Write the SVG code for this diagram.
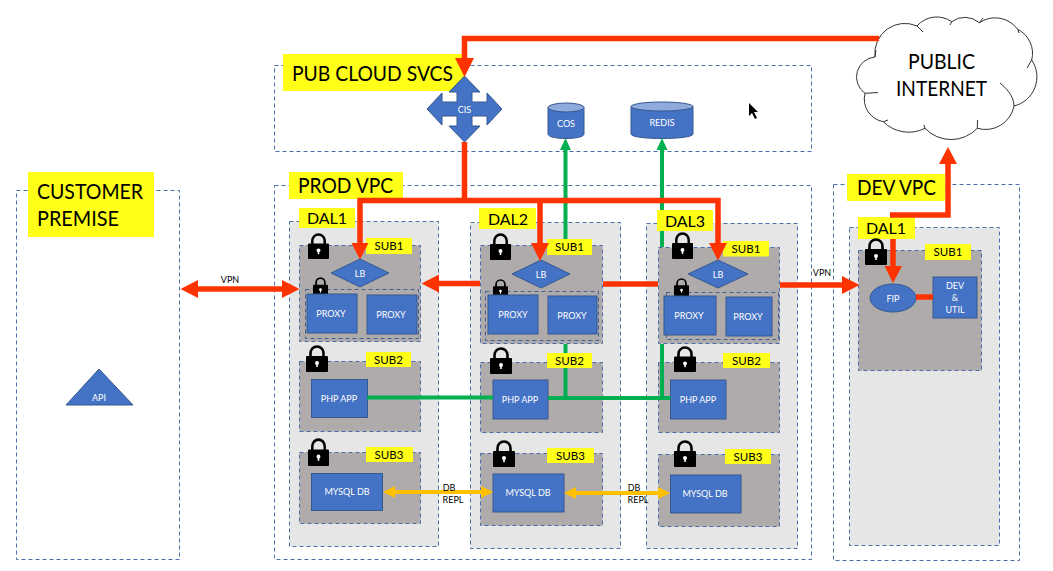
<svg xmlns="http://www.w3.org/2000/svg" xmlns:xlink="http://www.w3.org/1999/xlink" width="1053" height="571" viewBox="0 0 1053 571">
<style>
text{font-family:Lato,"Liberation Sans",sans-serif;text-anchor:middle}
.zone{fill:#fff;stroke:#4a6ea9;stroke-width:1;stroke-dasharray:4 3}
.dal{fill:#e7e6e6;stroke:#4a6ea9;stroke-width:1;stroke-dasharray:4 3}
.sub{fill:#afabab;stroke:#4a6ea9;stroke-width:1;stroke-dasharray:4 3}
.inner{fill:none;stroke:#44618f;stroke-width:1;stroke-dasharray:4 3}
.y{fill:#ffff17}
.b{fill:#4472c4;stroke:#35588f;stroke-width:1}
.w{fill:#fff;font-size:9px}
.t{fill:#000}
.big{font-size:21px}
.mid{font-size:16px}
.sm{font-size:11.5px}
.tiny{font-size:9px}
.red{fill:none;stroke:#ff3300;stroke-width:5.5}
.grn{fill:none;stroke:#00b050;stroke-width:4}
.org{fill:none;stroke:#ffc000;stroke-width:4}
</style>
<defs>
<symbol id="lock" viewBox="0 0 22 27" preserveAspectRatio="none">
<path d="M4.5 12V8a6.5 6.5 0 0 1 13 0V12" fill="none" stroke="#000" stroke-width="2.6"/>
<rect x="0" y="11" width="22" height="16" rx="1" fill="#000"/>
<circle cx="11" cy="18" r="2" fill="#fff"/><rect x="10.2" y="18" width="1.6" height="4" fill="#fff"/>
</symbol>
<marker id="hr" markerUnits="userSpaceOnUse" markerWidth="20" markerHeight="20" viewBox="0 -10 20 20" refX="0" refY="0" orient="auto-start-reverse" overflow="visible"><path d="M0-9L17.500 0L0 9Z" fill="#ff3300"/></marker>
<marker id="hg" markerUnits="userSpaceOnUse" markerWidth="14" markerHeight="14" viewBox="0 -7 14 14" refX="0" refY="0" orient="auto" overflow="visible"><path d="M0-5.500L12 0L0 5.500Z" fill="#00b050"/></marker>
<marker id="ho" markerUnits="userSpaceOnUse" markerWidth="14" markerHeight="14" viewBox="0 -7 14 14" refX="0" refY="0" orient="auto-start-reverse" overflow="visible"><path d="M0-6L12 0L0 6Z" fill="#ffc000"/></marker>
</defs>
<rect width="1053" height="571" fill="#fff"/>

<g id="customer-premise">
<rect class="zone" x="16.500" y="190.500" width="163" height="369"/>
<rect class="y" x="28" y="172" width="126" height="65"/>
<text class="t big" x="90" y="199" textLength="106" lengthAdjust="spacingAndGlyphs">CUSTOMER</text><text class="t big" x="78" y="226" textLength="82" lengthAdjust="spacingAndGlyphs">PREMISE</text>
</g>
<g id="api"><path class="b" d="M99 369L133 405H66Z"/><text class="w" x="99" y="401">API</text></g>

<g id="pub-cloud-svcs">
<rect class="zone" x="274.500" y="65.500" width="537" height="86"/>
<rect class="y" x="283" y="54" width="182" height="37"/>
<text class="t big" x="372.500" y="81" textLength="161" lengthAdjust="spacingAndGlyphs">PUB CLOUD SVCS</text>
</g>
<g id="cis"><path class="b" d="M464.500 76L480 92H472V102H487V93L502 109L487 125V116H472V126H480L464.500 142L449 126H457V116H442V125L427 109L442 93V102H457V92H449Z"/><text class="w" x="464.500" y="113">CIS</text></g>
<g id="cos"><path class="b" d="M548 107.500V134C548 140 584 140 584 134V107.500Z"/><ellipse cx="566" cy="107.500" rx="18" ry="4.500" fill="#8faadc" stroke="#35588f"/><text class="w" x="566" y="127">COS</text></g>
<g id="redis"><path class="b" d="M631 106.500V134C631 140 693 140 693 134V106.500Z"/><ellipse cx="662" cy="106.500" rx="31" ry="4.500" fill="#8faadc" stroke="#35588f"/><text class="w" x="662" y="126">REDIS</text></g>
<path id="cursor" d="M749 103V116L752 113L755 119L757 118L754 112L758 112Z" fill="#000"/>

<g id="prod-vpc">
<rect class="zone" x="274.500" y="185.500" width="537" height="374"/>
<rect class="y" x="289" y="172" width="114" height="27"/>
<text class="t big" x="345.500" y="193" textLength="95" lengthAdjust="spacingAndGlyphs">PROD VPC</text>
</g>

<g id="prod-dal1">
<rect class="dal" x="289.500" y="221.500" width="149" height="325"/>
<rect class="y" x="299" y="208" width="56" height="20"/><text class="t mid" x="327" y="224">DAL1</text>
</g>
<g id="prod-dal1-sub1">
<rect class="sub" x="299.500" y="245.500" width="121" height="96"/>
<rect class="y" x="366" y="238" width="46" height="16"/><text class="t sm" x="389" y="250">SUB1</text>
<use xlink:href="#lock" href="#lock" x="308" y="233" width="21" height="26"/>
<rect class="inner" x="305.500" y="289.500" width="113" height="49"/>
<use xlink:href="#lock" href="#lock" x="313" y="277" width="15" height="19"/>
</g>
<g id="prod-dal1-lb"><path class="b" d="M360 259L389 273L360 287L331 273Z"/><text class="w" x="360" y="277">LB</text></g>
<g id="prod-dal1-proxy1"><rect class="b" x="307" y="294" width="50" height="39"/><text class="w" x="331" y="317">PROXY</text></g>
<g id="prod-dal1-proxy2"><rect class="b" x="367" y="295" width="50" height="39"/><text class="w" x="391" y="318">PROXY</text></g>
<g id="prod-dal1-sub2">
<rect class="sub" x="299.500" y="361.500" width="121" height="70"/>
<rect class="y" x="366" y="352" width="45" height="15"/><text class="t sm" x="388.500" y="364">SUB2</text>
<use xlink:href="#lock" href="#lock" x="306" y="345" width="22" height="27"/>
</g>
<g id="prod-dal1-php"><rect class="b" x="311.500" y="379.500" width="56" height="38"/><text class="w" x="339" y="402">PHP APP</text></g>
<g id="prod-dal1-sub3">
<rect class="sub" x="299.500" y="452.500" width="121" height="71"/>
<rect class="y" x="366" y="447" width="47" height="15"/><text class="t sm" x="389" y="459">SUB3</text>
<use xlink:href="#lock" href="#lock" x="308" y="438" width="21" height="28"/>
</g>
<g id="prod-dal1-mysql"><rect class="b" x="311.500" y="473.500" width="71" height="37"/><text class="w" x="347" y="495">MYSQL DB</text></g>

<g id="prod-dal2">
<rect class="dal" x="470.500" y="222.500" width="150" height="326"/>
<rect class="y" x="479" y="208" width="57" height="21"/><text class="t mid" x="508" y="225">DAL2</text>
</g>
<g id="prod-dal2-sub1">
<rect class="sub" x="480.500" y="245.500" width="122" height="98"/>
<rect class="y" x="547" y="239" width="45" height="16"/><text class="t sm" x="569.500" y="251">SUB1</text>
<use xlink:href="#lock" href="#lock" x="490" y="233" width="21" height="27"/>
<rect class="inner" x="485.500" y="291.500" width="113" height="49"/>
<use xlink:href="#lock" href="#lock" x="493" y="279" width="15" height="18"/>
</g>
<g id="prod-dal2-lb"><path class="b" d="M541 260L570 274L541 288L512 274Z"/><text class="w" x="541" y="278">LB</text></g>
<g id="prod-dal2-proxy1"><rect class="b" x="488" y="295" width="50" height="39"/><text class="w" x="513" y="318">PROXY</text></g>
<g id="prod-dal2-proxy2"><rect class="b" x="548" y="296" width="49" height="38"/><text class="w" x="572" y="319">PROXY</text></g>
<g id="prod-dal2-sub2">
<rect class="sub" x="480.500" y="362.500" width="122" height="70"/>
<rect class="y" x="547" y="353" width="45" height="15"/><text class="t sm" x="569.500" y="365">SUB2</text>
<use xlink:href="#lock" href="#lock" x="490" y="347" width="22" height="27"/>
</g>
<g id="prod-dal2-php"><rect class="b" x="493" y="380" width="55" height="39"/><text class="w" x="520" y="403">PHP APP</text></g>
<g id="prod-dal2-sub3">
<rect class="sub" x="480.500" y="453.500" width="122" height="72"/>
<rect class="y" x="547" y="448" width="47" height="15"/><text class="t sm" x="570.500" y="460">SUB3</text>
<use xlink:href="#lock" href="#lock" x="493" y="440" width="22" height="27"/>
</g>
<g id="prod-dal2-mysql"><rect class="b" x="493" y="474" width="71" height="38"/><text class="w" x="528" y="496">MYSQL DB</text></g>

<g id="prod-dal3">
<rect class="dal" x="646.500" y="223.500" width="151" height="325"/>
<rect class="y" x="657" y="210" width="56" height="21"/><text class="t mid" x="685" y="227">DAL3</text>
</g>
<g id="prod-dal3-sub1">
<rect class="sub" x="658.500" y="247.500" width="121" height="96"/>
<rect class="y" x="723" y="241" width="46" height="15.500"/><text class="t sm" x="746" y="253">SUB1</text>
<use xlink:href="#lock" href="#lock" x="672" y="232" width="21" height="27"/>
<rect class="inner" x="666.500" y="292.500" width="112" height="47"/>
<use xlink:href="#lock" href="#lock" x="674" y="278" width="15" height="18"/>
</g>
<g id="prod-dal3-lb"><path class="b" d="M718 260L748 274L718 288L688 274Z"/><text class="w" x="718" y="278">LB</text></g>
<g id="prod-dal3-proxy1"><rect class="b" x="664" y="296" width="52" height="39"/><text class="w" x="689" y="319">PROXY</text></g>
<g id="prod-dal3-proxy2"><rect class="b" x="726" y="297" width="46" height="39"/><text class="w" x="748" y="320">PROXY</text></g>
<g id="prod-dal3-sub2">
<rect class="sub" x="658.500" y="362.500" width="121" height="70"/>
<rect class="y" x="723" y="353" width="47" height="15"/><text class="t sm" x="746.500" y="365">SUB2</text>
<use xlink:href="#lock" href="#lock" x="674" y="346" width="22" height="26"/>
</g>
<g id="prod-dal3-php"><rect class="b" x="670.500" y="380" width="55.500" height="39"/><text class="w" x="698" y="403">PHP APP</text></g>
<g id="prod-dal3-sub3">
<rect class="sub" x="658.500" y="454.500" width="121" height="72"/>
<rect class="y" x="725" y="449" width="46" height="15"/><text class="t sm" x="748" y="461">SUB3</text>
<use xlink:href="#lock" href="#lock" x="674" y="440" width="22" height="27"/>
</g>
<g id="prod-dal3-mysql"><rect class="b" x="670.500" y="475" width="70.500" height="38"/><text class="w" x="705" y="497">MYSQL DB</text></g>

<g id="dev-vpc">
<rect class="zone" x="833.500" y="184.500" width="186" height="376"/>
<rect class="y" x="847" y="174" width="98" height="27"/>
<text class="t big" x="896.500" y="195" textLength="79" lengthAdjust="spacingAndGlyphs">DEV VPC</text>
</g>
<g id="dev-dal1">
<rect class="dal" x="849.500" y="227.500" width="150" height="318"/>
<rect class="y" x="858" y="217" width="57" height="22"/><text class="t mid" x="886" y="234">DAL1</text>
</g>
<g id="dev-dal1-sub1">
<rect class="sub" x="858.500" y="250.500" width="123" height="120"/>
<rect class="y" x="925" y="244" width="46" height="16"/><text class="t sm" x="948" y="256">SUB1</text>
<use xlink:href="#lock" href="#lock" x="865" y="238" width="22" height="27"/>
</g>
<g id="fip"><ellipse class="b" cx="893" cy="298" rx="23" ry="14"/><text class="w" x="893" y="302">FIP</text></g>
<g id="dev-util"><rect class="b" x="933" y="277" width="44" height="41"/><text class="w" x="955" y="289">DEV</text><text class="w" x="955" y="301">&amp;</text><text class="w" x="955" y="313">UTIL</text></g>

<g id="public-internet">
<path d="M875 57A30 30 0 0 1 917 26A26 26 0 0 1 951.700 21.700A22 22 0 0 1 979.300 22.700A28 28 0 0 1 1017.700 29.300A27 27 0 0 1 1031.700 60A30 30 0 0 1 1014 106A29 29 0 0 1 977.300 128.300A36 36 0 0 1 925 128.300A36 36 0 0 1 883.300 121.700A23 23 0 0 1 865 93.300A20 20 0 0 1 875 57Z" fill="#fff" stroke="#333" stroke-width="1"/>
<path d="M875 57L876 50M917 26L923 32M951.700 21.700L950 25M979.300 22.700L983 18M1017.700 29.300L1019 33M1031.700 60L1027 68M1014 106C1014 96 1006 88 1000 83M977.300 128.300L977.500 120M925 128.300L924 125M883.300 121.700L888 120M865 93.300L878 92.500" fill="none" stroke="#333"/>
<text class="t big" x="941.500" y="69" textLength="67" lengthAdjust="spacingAndGlyphs">PUBLIC</text><text class="t big" x="941.500" y="96" textLength="91" lengthAdjust="spacingAndGlyphs">INTERNET</text>
</g>

<g id="connectors">
<path class="grn" d="M565.500 239V162"/>
<path class="grn" d="M565.500 344V353M565.500 368V398"/>
<path class="grn" marker-end="url(#hg)" d="M565.500 162V150"/>
<path class="grn" d="M662 210V162M662 231V247M662 344V398"/>
<path class="grn" marker-end="url(#hg)" d="M662 162V150"/>
<path class="grn" d="M367 397.500H493M548 398H670.500"/>
<path class="org" marker-start="url(#ho)" marker-end="url(#ho)" d="M395 492H481"/>
<path class="org" marker-start="url(#ho)" marker-end="url(#ho)" d="M576 493H658"/>
<path class="red" d="M879 38.500H464.500V58"/>
<path class="red" d="M464.500 142V201"/>
<path class="red" d="M360 243V200.500H718V243"/>
<path class="red" d="M540 200.500V243"/>
<path d="M351.500 243H368.500L360 259.500ZM531 243H549L540 261ZM709 243H727L718 260.500ZM455 58H474L464.500 77Z" fill="#ff3300"/>
<path class="red" marker-start="url(#hr)" marker-end="url(#hr)" d="M198 289H282"/>
<path class="red" marker-end="url(#hr)" d="M480 283.500H439"/>
<path class="red" d="M603 284H658"/>
<path class="red" marker-end="url(#hr)" d="M780 285H842"/>
<path class="red" d="M948 163V215H890"/>
<path d="M939 164H957L948 147ZM884.500 266H902L893 283Z" fill="#ff3300"/>
<path class="red" d="M893 239V266"/>
<path class="red" d="M916 297H933"/>
</g>

<g id="connector-labels">
<text class="t tiny" x="230" y="283">VPN</text>
<text class="t tiny" x="822" y="276">VPN</text>
<text class="t tiny" x="449" y="491">DB</text><text class="t tiny" x="453" y="503">REPL</text>
<text class="t tiny" x="634" y="491">DB</text><text class="t tiny" x="638" y="503">REPL</text>
</g>
</svg>
